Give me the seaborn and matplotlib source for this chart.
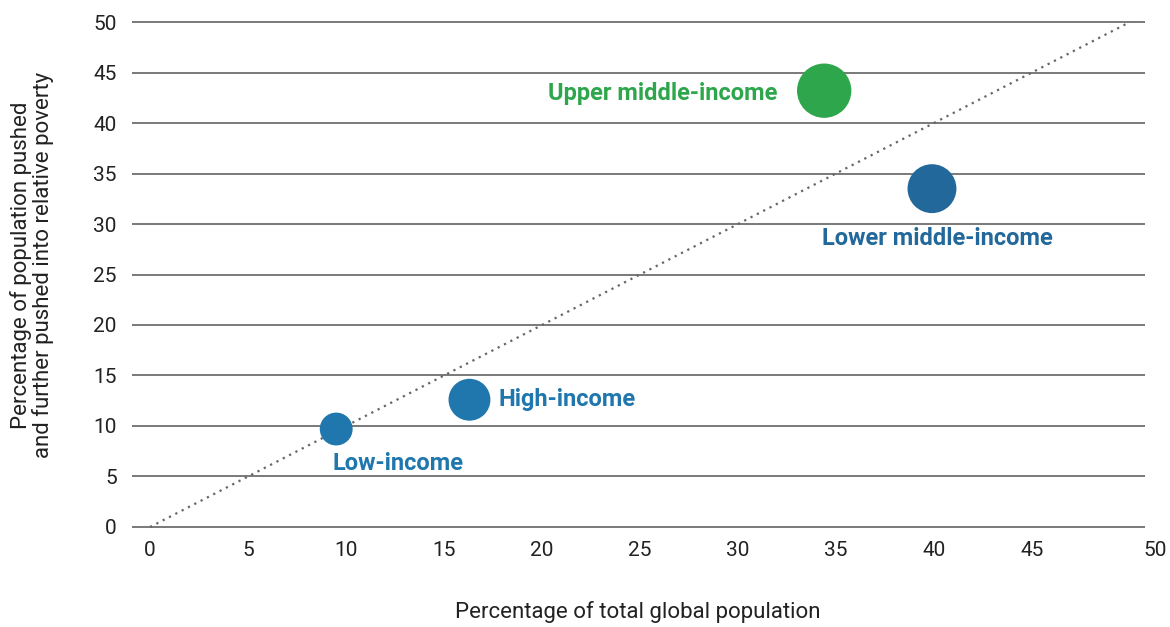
import pandas as pd
import numpy as np
import matplotlib.pyplot as plt
from matplotlib.transforms import ScaledTranslation
import seaborn as sns

# Income groups: share of global population vs share pushed into relative poverty
groups = ['Low-income', 'High-income', 'Upper middle-income', 'Lower middle-income']
pop_share = [9.5, 16.3, 34.4, 39.9]
poverty_share = [9.7, 12.6, 43.2, 33.5]

group_colors = {
    'Low-income': '#1f77ae',
    'High-income': '#1f77ae',
    'Upper middle-income': '#2ea64b',
    'Lower middle-income': '#22689a',
}
# marker areas (pt^2)
group_sizes = {
    'Low-income': 560,
    'High-income': 910,
    'Upper middle-income': 1530,
    'Lower middle-income': 1240,
}

df = pd.DataFrame({'group': groups, 'pop': pop_share, 'poverty': poverty_share})

sns.set_theme(style='white')
plt.rcParams['font.family'] = ['Roboto', 'DejaVu Sans']

fig = plt.figure(figsize=(11.7, 6.27), dpi=100)
ax = fig.add_axes([132 / 1170, 1 - 528 / 627, 1013 / 1170, 507 / 627])

# 45-degree reference line
ax.plot([0, 50], [0, 50], color='#666666', lw=1.6, linestyle=(0, (1, 2.2)), zorder=2)

sns.scatterplot(data=df, x='pop', y='poverty', hue='group', palette=group_colors,
                size='group', sizes=group_sizes, linewidth=0, alpha=1,
                legend=False, ax=ax, zorder=3)

# labels next to bubbles (offsets in points)
label_pos = {
    'Low-income': (-3, -25, 'left'),
    'High-income': (21, 0, 'left'),
    'Upper middle-income': (-34, -2, 'right'),
    'Lower middle-income': (-79, -36, 'left'),
}
for g, x, y in zip(groups, pop_share, poverty_share):
    dx, dy, ha = label_pos[g]
    ax.annotate(g, (x, y), xytext=(dx, dy), textcoords='offset points',
                ha=ha, va='center', fontsize=17, fontweight='bold',
                color=group_colors[g])

ax.set_xlim(-0.92, 50.77)
ax.set_ylim(-0.1, 50.1)
ax.set_xticks(np.arange(0, 51, 5))
ax.set_yticks(np.arange(0, 51, 5))
ax.grid(axis='y', color='#555555', lw=1.1)
ax.grid(axis='x', visible=False)
for s in ax.spines.values():
    s.set_visible(False)
ax.tick_params(axis='both', length=0, labelsize=15, labelcolor='#222222')
ax.tick_params(axis='y', pad=11)
ax.tick_params(axis='x', pad=9)
ax.set_xlabel('')
ax.set_ylabel('')

# last x tick label sits further right in the original
fig.canvas.draw()
last = ax.get_xticklabels()[-1]
last.set_transform(last.get_transform() + ScaledTranslation(25 / 100, 0, fig.dpi_scale_trans))

fig.text(0.545, 0.024, 'Percentage of total global population', ha='center', va='center',
         fontsize=16, color='#222222')
fig.text(0.027, 0.577, 'Percentage of population pushed\nand further pushed into relative poverty',
         ha='center', va='center', rotation=90, fontsize=16, color='#222222', linespacing=1.0)

fig.savefig('out.png', dpi=100)
